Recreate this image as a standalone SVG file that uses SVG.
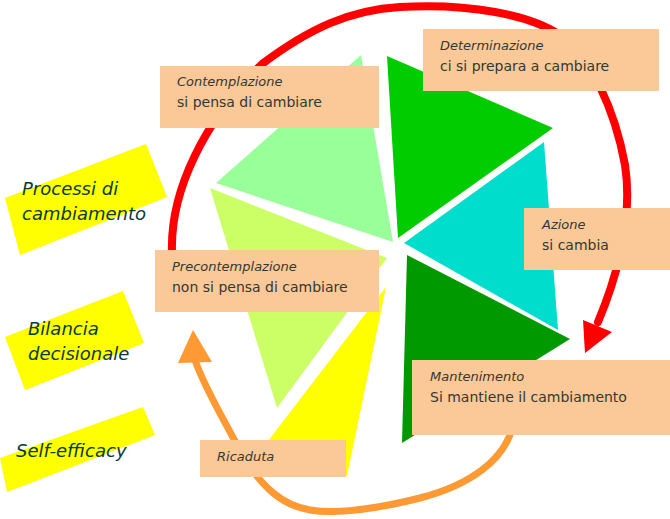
<svg xmlns="http://www.w3.org/2000/svg" width="670" height="519" viewBox="0 0 670 519">
<style>
.box{fill:#FBC897}
.t1{font-family:"DejaVu Sans","Liberation Sans",sans-serif;font-size:13px;font-style:italic;fill:#333833}
.t2{font-family:"DejaVu Sans","Liberation Sans",sans-serif;font-size:14px;fill:#333833}
.ylw{fill:#FFFF00}
.lt{font-family:"DejaVu Sans","Liberation Sans",sans-serif;font-size:18px;font-style:italic;fill:#063A3A}
.red{fill:none;stroke:#FF0000;stroke-width:8;stroke-linecap:round}
.org{fill:none;stroke:#FF9933;stroke-width:7;stroke-linecap:round}
</style>
<rect width="670" height="519" fill="#FFFFFF"/>
<g id="wheel">
<polygon points="361,55 216,183 393,242" fill="#99FF99"/>
<polygon points="387,56 553,128 398,238" fill="#00CC00"/>
<polygon points="544,142 558,330 404,243" fill="#00DDCC"/>
<polygon points="407,255 570,339 402,443" fill="#009900"/>
<polygon points="210,188 387,258 277,408" fill="#CCFF66"/>
<polygon points="386,287 265,445 347,476" fill="#FFFF00"/>
</g>
<g id="connectors">
<path class="red" d="M172,252 C170,190 205,120 262,64 C310,28 350,10 400,7 C470,3 530,15 560,35 C590,55 615,110 625,165 C632,210 622,265 598,322"/>
<polygon points="583,320 612,332 585,353" fill="#FF0000"/>
<path class="org" d="M513,425 C505,460 470,485 420,498 C380,508 340,515 310,510 C280,505 262,485 245,460 C230,430 205,390 195,360"/>
<polygon points="178,363 212,362 193,330" fill="#FF9933"/>
</g>
<g id="contemplazione">
<rect class="box" x="160" y="66" width="219" height="62"/>
<text class="t1" x="177" y="86">Contemplazione</text>
<text class="t2" x="177" y="107">si pensa di cambiare</text>
</g>
<g id="determinazione">
<rect class="box" x="423" y="29" width="236" height="62"/>
<text class="t1" x="440" y="50">Determinazione</text>
<text class="t2" x="440" y="71">ci si prepara a cambiare</text>
</g>
<g id="azione">
<rect class="box" x="524" y="208" width="146" height="62"/>
<text class="t1" x="542" y="229">Azione</text>
<text class="t2" x="542" y="250">si cambia</text>
</g>
<g id="precontemplazione">
<rect class="box" x="155" y="250" width="224" height="62"/>
<text class="t1" x="172" y="271">Precontemplazione</text>
<text class="t2" x="172" y="292">non si pensa di cambiare</text>
</g>
<g id="mantenimento">
<rect class="box" x="412" y="360" width="258" height="75"/>
<text class="t1" x="430" y="381">Mantenimento</text>
<text class="t2" x="430" y="402">Si mantiene il cambiamento</text>
</g>
<g id="ricaduta">
<rect class="box" x="200" y="440" width="146" height="37"/>
<text class="t1" x="217" y="461">Ricaduta</text>
</g>
<g id="processi">
<polygon class="ylw" points="5,198 146,144 167,197 20,255"/>
<text class="lt" x="22" y="195">Processi di</text>
<text class="lt" x="22" y="220">cambiamento</text>
</g>
<g id="bilancia">
<polygon class="ylw" points="5,337 123,291 144,343 25,390"/>
<text class="lt" x="28" y="335">Bilancia</text>
<text class="lt" x="28" y="360">decisionale</text>
</g>
<g id="selfefficacy">
<polygon class="ylw" points="0,458 143,407 155,435 7,492"/>
<text class="lt" x="16" y="457">Self-efficacy</text>
</g>
</svg>
